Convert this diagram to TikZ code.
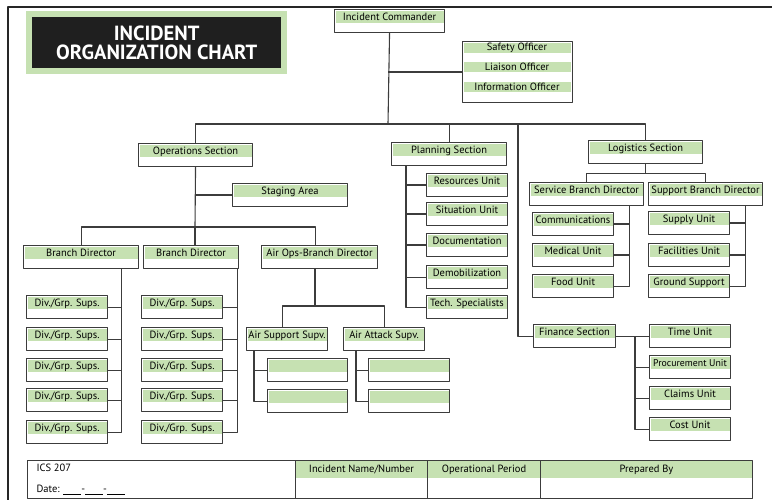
\documentclass[tikz,border=0pt]{standalone}
\usepackage{fontspec}
\setmainfont{PT Sans}
\usetikzlibrary{positioning}
\definecolor{boxgreen}{RGB}{198,225,178}
\definecolor{boxline}{RGB}{60,60,60}
\newcommand{\orgfont}{\fontsize{10.5}{12}\selectfont}
\tikzset{
  orgbox/.style={draw=boxline, line width=1.1pt, fill=white, anchor=north west,
    inner xsep=0pt, inner ysep=0pt, text height=10.5pt, text depth=12.5pt,
    font=\orgfont,
    path picture={\fill[boxgreen] ([xshift=1pt,yshift=-1pt]path picture bounding box.north west)
      rectangle ([xshift=-1pt,yshift=-13pt]path picture bounding box.north east);}},
  band/.style={fill=boxgreen, minimum width=107pt, minimum height=10pt, inner sep=0pt, font=\orgfont},
  footcell/.style={draw=boxline, line width=1pt, anchor=north west, inner xsep=0pt, inner ysep=0pt,
    text height=12pt, text depth=26pt, font=\orgfont,
    path picture={\fill[boxgreen] (path picture bounding box.north west)
      rectangle ([yshift=-17pt]path picture bounding box.north east);}},
  conn/.style={draw=boxline, line width=1.1pt},
}
\begin{document}
\begin{tikzpicture}[x=1pt, y=-1pt, line join=round]
\useasboundingbox (0,0) rectangle (772,500);
% page frame
\draw[line width=2.5pt, black!85] (8,500) -- (8,7) -- (772,7);
% title
\node[fill=boxgreen, minimum width=261pt, minimum height=63pt, anchor=north west] (titlebg) at (26,11) {};
\node[fill=black!88, text=white, minimum width=249pt, minimum height=51pt, align=center,
  font=\bfseries\fontsize{20.5}{18.5}\selectfont] (title) at (titlebg.center) {INCIDENT\\ORGANIZATION CHART};

% command
\node[orgbox, minimum width=110pt] (ic) at (334,9) {Incident Commander};
\node[draw=boxline, line width=1.1pt, minimum width=110pt, minimum height=61pt, anchor=north west] (staff) at (462,41) {};
\node[band] (safety) at (517,48) {Safety Officer};
\node[band] (liaison) at (517,67) {Liaison Officer};
\node[band] (info) at (517,87) {Information Officer};

% sections
\node[orgbox, minimum width=114pt] (ops) at (138,143) {Operations Section};
\node[orgbox, minimum width=115pt] (plan) at (391,142) {Planning Section};
\node[orgbox, minimum width=114pt] (log) at (588,140) {Logistics Section};
\node[orgbox, minimum width=82pt] (fin) at (533,324) {Finance Section};

% operations
\node[orgbox, minimum width=115pt] (stage) at (232,183) {Staging Area};
\node[orgbox, minimum width=115pt] (br1) at (23,245) {Branch Director};
\node[orgbox, minimum width=95pt] (br2) at (143,245) {Branch Director};
\node[orgbox, minimum width=116pt] (air) at (261,245) {Air Ops-Branch Director};
\foreach \y [count=\i] in {295,327,358,388,420} {
  \node[orgbox, minimum width=81pt] (da\i) at (26,\y) {Div./Grp. Sups.};
  \node[orgbox, minimum width=81pt] (db\i) at (141,\y) {Div./Grp. Sups.};
}
\node[orgbox, minimum width=81pt] (asup) at (246,327) {Air Support Supv.};
\node[orgbox, minimum width=81pt] (aatk) at (343,327) {Air Attack Supv.};
\foreach \y [count=\i] in {358,389} {
  \node[orgbox, minimum width=80pt] (as\i) at (267,\y) {};
  \node[orgbox, minimum width=81pt] (aa\i) at (368,\y) {};
}

% planning
\foreach \y/\t [count=\i] in {173/Resources Unit, 202/Situation Unit, 233/Documentation,
    265/Demobilization, 295/Tech. Specialists}
  \node[orgbox, minimum width=81pt] (pu\i) at (426,\y) {\t};

% logistics
\node[orgbox, minimum width=114pt] (svc) at (529,182) {Service Branch Director};
\node[orgbox, minimum width=114pt] (sup) at (648,182) {Support Branch Director};
\foreach \y/\t [count=\i] in {212/Communications, 243/Medical Unit, 274/Food Unit}
  \node[orgbox, minimum width=81pt] (su\i) at (532,\y) {\t};
\foreach \y/\t [count=\i] in {211/Supply Unit, 243/Facilities Unit, 274/Ground Support}
  \node[orgbox, minimum width=81pt] (pp\i) at (648,\y) {\t};

% finance
\foreach \y/\t [count=\i] in {324/Time Unit, 355/{\fontsize{9.8}{12}\selectfont Procurement Unit}, 386/Claims Unit, 417/Cost Unit}
  \node[orgbox, minimum width=81pt] (fu\i) at (649,\y) {\t};

% connectors
\coordinate (bar) at (388,124);
\coordinate (finx) at (518,124);
\draw[conn] (ic.south) -- (bar);
\draw[conn] (staff.west) -- (staff.west -| bar);
\draw[conn] (ops.north) |- (bar) -| (log.north);
\draw[conn] (plan.north) -- (plan.north |- bar);
\draw[conn] (finx) |- (fin.west);

\coordinate (opsbar) at (195,227);
\draw[conn] (ops.south) -- (opsbar);
\draw[conn] (stage.west) -- (stage.west -| opsbar);
\draw[conn] (br1.north) |- (opsbar) -| ([xshift=-4pt]air.north);
\draw[conn] (opsbar) -- (opsbar |- br2.north);
\coordinate (atop) at ([xshift=-18pt]br1.south east);
\coordinate (btop) at ([xshift=-2pt]br2.south east);
\foreach \i in {1,...,5} {
  \draw[conn] (da\i.east) -| (atop);
  \draw[conn] (db\i.east) -| (btop);
}
\coordinate (airbar) at (315,306);
\draw[conn] (airbar |- air.south) -- (airbar);
\draw[conn] ([xshift=-5pt]asup.north) |- (airbar) -| (aatk.north);
\coordinate (astop) at ([xshift=8pt]asup.south west);
\coordinate (aatop) at ([xshift=13pt]aatk.south west);
\foreach \i in {1,2} {
  \draw[conn] (as\i.west) -| (astop);
  \draw[conn] (aa\i.west) -| (aatop);
}

\coordinate (ptop) at ([xshift=15pt]plan.south west);
\foreach \i in {1,...,5} \draw[conn] (pu\i.west) -| (ptop);

\draw[conn] (log.south) -- ++(0,9) coordinate (logbar);
\draw[conn] (svc.north) |- (logbar) -| (sup.north);
\coordinate (svtop) at ([xshift=-15pt]svc.south east);
\coordinate (sptop) at ([xshift=-18pt]sup.south east);
\foreach \i in {1,2,3} {
  \draw[conn] (su\i.east) -| (svtop);
  \draw[conn] (pp\i.east) -| (sptop);
}

\draw[conn] (fin.east) -- (fu1.west);
\coordinate (finv) at (635,336);
\foreach \i in {2,3,4} \draw[conn] (fu\i.west) -| (finv);

% footer
\node[draw=boxline, line width=1pt, minimum width=268pt, minimum height=38pt, anchor=north west, inner sep=0pt] (ics) at (27,460) {};
\node[anchor=west, font=\orgfont] (icsno) at (33,468) {ICS 207};
\node[anchor=west, font=\orgfont] (date) at (33,490) {Date: \rule[-1.5pt]{18pt}{0.6pt}-\rule[-1.5pt]{18pt}{0.6pt}-\rule[-1.5pt]{18pt}{0.6pt}};
\node[footcell, minimum width=132pt] (iname) at (295,460) {Incident Name/Number};
\node[footcell, minimum width=113pt] (oper) at (427,460) {Operational Period};
\node[footcell, minimum width=212pt] (prep) at (540,460) {Prepared By};
\end{tikzpicture}
\end{document}
